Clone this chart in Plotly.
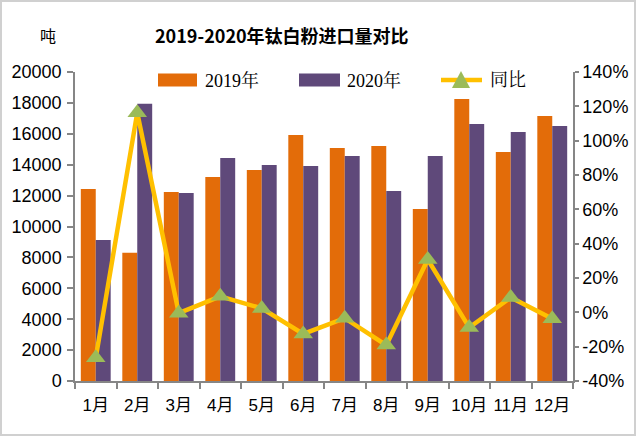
import plotly.graph_objects as go

months = ["1月", "2月", "3月", "4月", "5月", "6月", "7月", "8月", "9月", "10月", "11月", "12月"]
imports_2019 = [12430, 8300, 12230, 13200, 13660, 15920, 15080, 15210, 11130, 18250, 14820, 17150]
imports_2020 = [9130, 17950, 12170, 14430, 13980, 13920, 14560, 12300, 14560, 16630, 16120, 16500]
yoy_pct = [-26.5, 116.3, -0.5, 9.3, 2.3, -12.6, -3.4, -19.1, 30.8, -8.9, 8.7, -3.8]
left_ticks = [0, 2000, 4000, 6000, 8000, 10000, 12000, 14000, 16000, 18000, 20000]
right_ticks = [-40, -20, 0, 20, 40, 60, 80, 100, 120, 140]
series_names = ["2019年", "2020年", "同比"]

W, H = 636, 436
L, R, T, B = 75, 63, 72, 55
pw, ph = W - L - R, H - T - B

sans = "Liberation Sans, Noto Sans CJK SC, sans-serif"
serif = "Liberation Serif, Noto Serif CJK SC, Noto Sans CJK SC, serif"
axis_col = "#868686"
c19, c20, cline, cmark = "#E36C09", "#5F497A", "#FFC000", "#9BBB59"


def px(x):
    return (x - L) / pw


def py(y):
    return 1 - (y - T) / ph


fig = go.Figure()
fig.add_trace(go.Bar(x=months, y=imports_2019, name=series_names[0], marker_color=c19,
                     marker_line_width=0))
fig.add_trace(go.Bar(x=months, y=imports_2020, name=series_names[1], marker_color=c20,
                     marker_line_width=0))
fig.add_trace(go.Scatter(x=months, y=yoy_pct, name=series_names[2], yaxis="y2",
                         mode="lines+markers", line=dict(color=cline, width=4.5),
                         marker=dict(symbol="triangle-up", size=17, color=cmark,
                                     line=dict(width=0))))

tick_common = dict(showline=True, linecolor=axis_col, linewidth=1.5, ticks="outside",
                   tickcolor=axis_col, tickwidth=1.5, showgrid=False,
                   zeroline=False, automargin=False)

# manual legend (wide swatches like the original)
leg_y = 80
shapes = [
    dict(type="rect", xref="paper", yref="paper", x0=px(158), x1=px(197),
         y0=py(leg_y - 6.5), y1=py(leg_y + 6.5), fillcolor=c19, line=dict(width=0)),
    dict(type="rect", xref="paper", yref="paper", x0=px(299), x1=px(340),
         y0=py(leg_y - 6.5), y1=py(leg_y + 6.5), fillcolor=c20, line=dict(width=0)),
    dict(type="line", xref="paper", yref="paper", x0=px(441), x1=px(482),
         y0=py(leg_y), y1=py(leg_y), line=dict(color=cline, width=4.5)),
    dict(type="path", xref="paper", yref="paper",
         path="M {} {} L {} {} L {} {} Z".format(px(452), py(leg_y + 8), px(470), py(leg_y + 8),
                                                 px(461), py(leg_y - 9)),
         fillcolor=cmark, line=dict(width=0)),
    dict(type="rect", xref="paper", yref="paper",
         x0=px(1), x1=px(W - 1), y0=py(H - 1), y1=py(1),
         line=dict(color="#d0d0d0", width=2), layer="below"),
]
annotations = [
    dict(text="<b>2019-2020年钛白粉进口量对比</b>", xref="paper", yref="paper",
         x=px(282), y=py(35), xanchor="center", yanchor="middle", showarrow=False,
         font=dict(family="Noto Sans CJK SC, sans-serif", size=18, color="#000")),
    dict(text="吨", xref="paper", yref="paper", x=px(48), y=py(35),
         xanchor="center", yanchor="middle", showarrow=False,
         font=dict(family="Noto Sans CJK SC, sans-serif", size=16, color="#000")),
]
for name, xl in zip(series_names, [203, 345, 488]):
    annotations.append(dict(text=name, xref="paper", yref="paper", x=px(xl), y=py(leg_y),
                            xanchor="left", yanchor="middle", showarrow=False,
                            font=dict(family=serif, size=18, color="#000")))

fig.update_layout(
    width=W, height=H,
    margin=dict(l=L, r=R, t=T, b=B),
    paper_bgcolor="white", plot_bgcolor="white",
    barmode="group", bargap=0.28, bargroupgap=0,
    showlegend=False,
    xaxis=dict(type="category", tickson="boundaries", tickangle=0, ticklen=6,
               ticklabelstandoff=8, range=[-0.5, len(months) - 0.5],
               tickfont=dict(family=sans, size=17, color="#000"), **tick_common),
    yaxis=dict(range=[0, 20000], tickvals=left_ticks, ticktext=[str(v) for v in left_ticks],
               ticklen=6, ticklabelstandoff=2,
               tickfont=dict(family=sans, size=18, color="#000"), **tick_common),
    yaxis2=dict(range=[-40, 140], tickvals=right_ticks,
                ticktext=[f"{v}%" for v in right_ticks], overlaying="y", side="right",
                ticklen=4,
                tickfont=dict(family=sans, size=18, color="#000"), **tick_common),
    shapes=shapes,
    annotations=annotations,
)

fig.write_html("out.html", config={"displayModeBar": False},
               post_script="document.body.style.margin='0';document.body.style.overflow='hidden';")
